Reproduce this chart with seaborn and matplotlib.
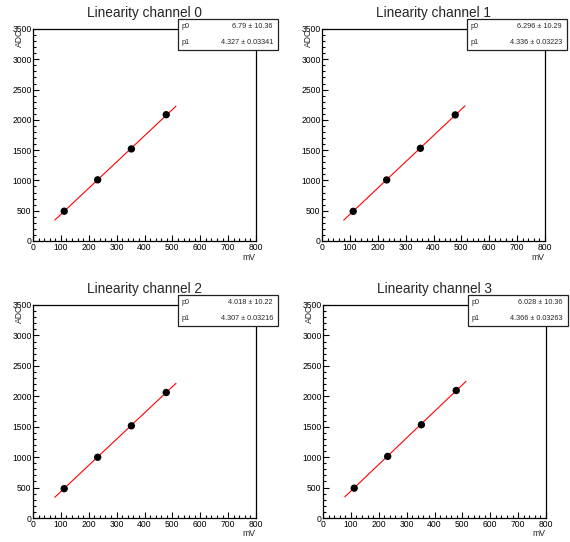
import numpy as np
import pandas as pd
import seaborn as sns
import matplotlib.pyplot as plt
from matplotlib.patches import Rectangle

# data
channels = [0, 1, 2, 3]
pulse_mv = [112, 232, 353, 478]
adc_ch0 = [492, 1010, 1520, 2085]
adc_ch1 = [490, 1008, 1530, 2082]
adc_ch2 = [482, 998, 1515, 2062]
adc_ch3 = [490, 1012, 1532, 2095]
p0_vals = [6.79, 6.296, 4.018, 6.028]
p0_errs = ["10.36", "10.29", "10.22", "10.36"]
p1_vals = [4.327, 4.336, 4.307, 4.366]
p1_errs = ["0.03341", "0.03223", "0.03216", "0.03263"]
fit_range = [78, 513]

W, H = 570, 542


def set_config():
    sns.set_theme(style="white")
    plt.rcParams["font.family"] = ["Liberation Sans", "DejaVu Sans"]
    plt.rcParams["axes.linewidth"] = 0.9
    plt.rcParams["axes.edgecolor"] = "black"


def fx(x):
    return x / W


def fy(y):
    return 1 - y / H


def draw_panel(fig, ch, adc, box):
    left, top, right, bottom = box
    ax = fig.add_axes([fx(left), fy(bottom), (right - left) / W, (bottom - top) / H])

    # fit line from p0 + p1*x over the fit range
    fit = pd.DataFrame({"mV": fit_range})
    fit["ADC"] = p0_vals[ch] + p1_vals[ch] * fit["mV"]
    sns.lineplot(data=fit, x="mV", y="ADC", ax=ax, color="#ff0000", linewidth=0.8)

    pts = pd.DataFrame({"mV": pulse_mv, "ADC": adc})
    sns.scatterplot(data=pts, x="mV", y="ADC", ax=ax, color="black", s=28,
                    edgecolor="none", zorder=5)

    ax.set_xlim(0, 800)
    ax.set_ylim(0, 3500)
    ax.set_xticks(np.arange(0, 801, 100))
    ax.set_yticks(np.arange(0, 3501, 500))
    ax.set_xticks(np.arange(0, 801, 20), minor=True)
    ax.set_yticks(np.arange(0, 3501, 100), minor=True)
    ax.tick_params(which="both", direction="in", top=False, right=False,
                   bottom=True, left=True, width=0.8, labelsize=6.2, colors="black")
    ax.tick_params(which="major", length=4.3)
    ax.tick_params(which="minor", length=2.2)
    ax.tick_params(axis="x", pad=1.5)
    ax.tick_params(axis="y", pad=1.0)
    ax.set_xlabel("")
    ax.set_ylabel("")

    # axis titles ROOT style
    fig.text(fx(right - 1), fy(bottom + 16), "mV", ha="right", va="center", fontsize=6.2)
    fig.text(fx(left - 14), fy(top), "ADC", ha="center", va="top", rotation=90, fontsize=6.2)

    # title
    fig.text(fx((left + right) / 2), fy(top - 12), f"Linearity channel {ch}",
             ha="center", va="baseline", fontsize=9.8)

    # stats box
    bx0, by0 = right - 78, top - 10
    bx1, by1 = right + 22, top + 21
    fig.add_artist(Rectangle((fx(bx0), fy(by1)), (bx1 - bx0) / W, (by1 - by0) / H,
                             transform=fig.transFigure, facecolor="white",
                             edgecolor="#222222", linewidth=0.9))
    fig.text(fx(bx0 + 4), fy(by0 + 7.5), "p0", ha="left", va="center", fontsize=5.2)
    fig.text(fx(bx0 + 4), fy(by0 + 24), "p1", ha="left", va="center", fontsize=5.2)
    fig.text(fx(bx1 - 5), fy(by0 + 7.5), f"{p0_vals[ch]} \u00b1 {p0_errs[ch]}",
             ha="right", va="center", fontsize=5.2)
    fig.text(fx(bx1 - 5), fy(by0 + 24), f"{p1_vals[ch]} \u00b1 {p1_errs[ch]}",
             ha="right", va="center", fontsize=5.2)
    return ax


def main():
    set_config()
    fig = plt.figure(figsize=(W / 100, H / 100), dpi=100)
    fig.patch.set_facecolor("white")

    boxes = [
        (33, 29, 256, 241),
        (322, 29, 545, 241),
        (33, 305, 256, 518),
        (323, 305, 546, 518),
    ]
    adcs = [adc_ch0, adc_ch1, adc_ch2, adc_ch3]
    for ch in channels:
        draw_panel(fig, ch, adcs[ch], boxes[ch])

    fig.savefig("out.png", dpi=100)


if __name__ == "__main__":
    main()
